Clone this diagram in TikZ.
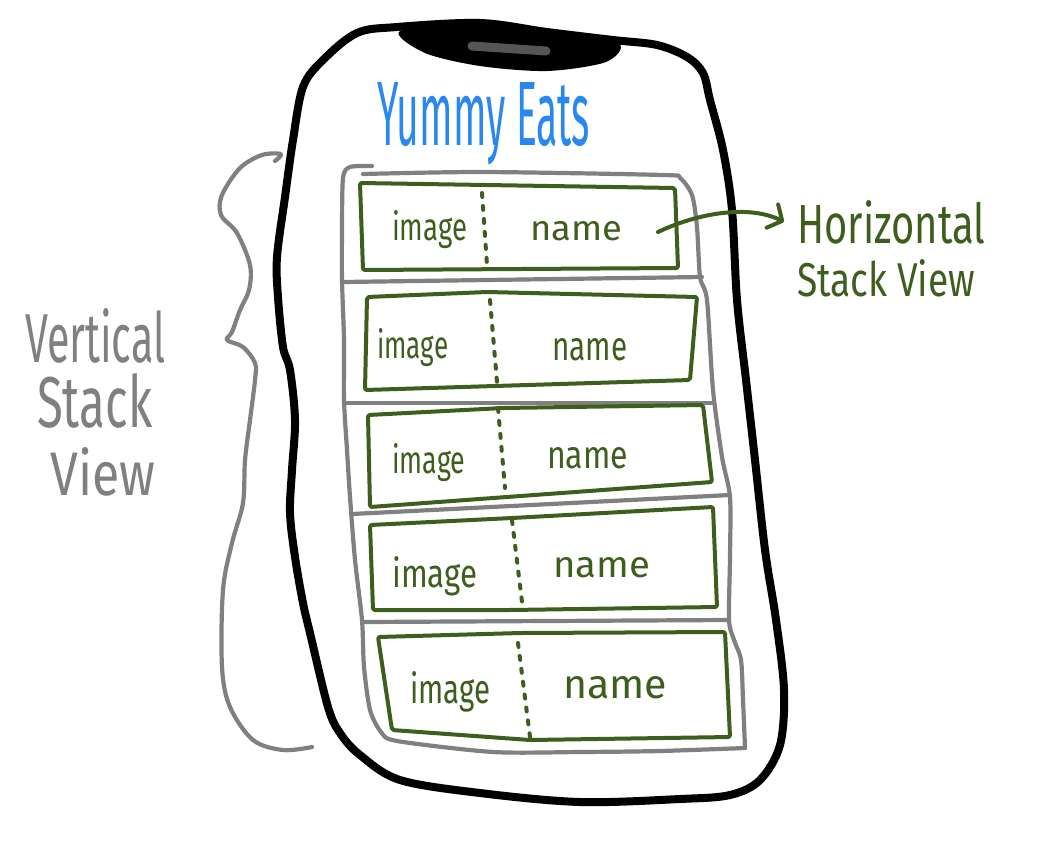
\documentclass[tikz,border=0pt]{standalone}
\usepackage{fontspec}
\setmainfont{Fira Sans}
\usepackage{graphicx}
\usetikzlibrary{arrows.meta}
\definecolor{penblue}{RGB}{40,135,240}
\definecolor{pengreen}{RGB}{62,94,30}
\definecolor{pengray}{RGB}{128,128,128}
\definecolor{speaker}{RGB}{85,85,85}
\newcommand{\hw}[3]{\resizebox{#1pt}{#2pt}{#3}}
\begin{document}
\begin{tikzpicture}[x=1pt,y=-1pt,line cap=round,line join=round,
  phone/.style={line width=8pt,black},
  stackline/.style={line width=4.2pt,pengray},
  rowbox/.style={line width=4pt,pengreen,rounded corners=2pt},
  rowsplit/.style={line width=4pt,pengreen,dash pattern=on 4pt off 9pt},
  txt/.style={inner sep=0pt,anchor=base west},
  celltext/.style={txt,text=pengreen,font=\fontsize{40}{40}\selectfont},
  graytext/.style={txt,text=pengray,font=\fontsize{72}{72}\selectfont},
  greentext/.style={txt,text=pengreen,font=\fontsize{60}{60}\selectfont},
  arrowline/.style={line width=4pt,pengreen,-{Straight Barb[length=11pt,width=26pt,round]}}]
\useasboundingbox (0,0) rectangle (1064,846);
\fill[white] (0,0) rectangle (1064,846);

% phone outline
\draw[phone] plot[smooth cycle,tension=0.55] coordinates {
 (293,140) (303,87) (323,60) (357,33) (397,27) (480,23) (547,32) (613,40)
 (657,45) (687,57) (703,73) (710,100) (723,150) (732,210) (737,300) (746,380)
 (755,460) (765,550) (776,620) (784,690) (780,745) (760,780) (730,795) (680,799)
 (580,802) (480,793) (400,780) (360,755) (340,733) (328,707) (310,633) (303,603)
 (295,557) (290,513) (292,470) (295,420) (290,370) (283,347) (278,297) (277,257) (285,197)};
% notch
\fill[black] plot[smooth cycle,tension=0.5] coordinates {
 (400,31) (480,24) (547,32) (618,43) (606,62) (547,71) (480,66) (425,53)};
\draw[line width=9pt,speaker] (472,46) -- (546,51);

% title
\node[txt,text=penblue,font=\fontsize{90}{90}\selectfont] (title) at (377,145) {\hw{213}{63}{Yummy Eats}};

% vertical stack outline
\draw[stackline] plot[smooth,tension=0.45] coordinates {
 (372,166) (350,167) (343,178) (342,230) (342,280) (344,340) (344,400) (347,450)
 (350,497) (355,560) (362,620) (364,667) (370,710) (381,732) (397,741) (493,752)
 (580,752) (660,751) (745,748)};
\draw[stackline] plot[smooth,tension=0.45] coordinates {
 (745,748) (743,700) (741,660) (734,640) (729,620) (730,557) (730,497) (722,457)
 (713,390) (707,300) (700,277) (697,227) (692,195) (680,178) (663,175) (483,172) (363,174)};
% dividers
\draw[stackline] (343,282) -- (702,277);
\draw[stackline] (344,403) -- (713,403);
\draw[stackline] (352,514) -- (730,495);
\draw[stackline] (365,622) -- (728,620);

% row boxes
\draw[rowbox] (360,183) -- (675,188) -- (678,268) -- (363,270) -- cycle;
\draw[rowbox] (367,297) -- (487,292) -- (697,297) -- (690,380) -- (365,390) -- cycle;
\draw[rowbox] (368,415) -- (503,408) -- (703,405) -- (712,482) -- (370,507) -- cycle;
\draw[rowbox] (370,525) -- (512,518) -- (713,507) -- (717,607) -- (510,610) -- (373,610) -- cycle;
\draw[rowbox] (378,637) -- (520,633) -- (725,632) -- (730,737) -- (530,740) -- (392,730) -- cycle;

% dotted splits
\draw[rowsplit] (482,193) -- (487,265);
\draw[rowsplit] (490,300) -- (497,382);
\draw[rowsplit] (498,408) -- (505,488);
\draw[rowsplit] (512,520) -- (522,602);
\draw[rowsplit] (518,643) -- (530,737);

% cell texts
\node[celltext] (img1) at (392,240) {\hw{75}{30}{image}};
\node[celltext] (nam1) at (530,240) {\hw{92}{19}{name}};
\node[celltext] (img2) at (377,358) {\hw{71}{30}{image}};
\node[celltext] (nam2) at (552,360) {\hw{75}{22}{name}};
\node[celltext] (img3) at (392,473) {\hw{73}{30}{image}};
\node[celltext] (nam3) at (547,468) {\hw{81}{21}{name}};
\node[celltext] (img4) at (392,587) {\hw{85}{31}{image}};
\node[celltext] (nam4) at (553,577) {\hw{97}{20}{name}};
\node[celltext] (img5) at (410,703) {\hw{80}{32}{image}};
\node[celltext] (nam5) at (563,698) {\hw{104}{22}{name}};

% horizontal stack label and arrow
\node[greentext] (hl1) at (797,243) {\hw{188}{43}{Horizontal}};
\node[greentext] (hl2) at (797,296) {\hw{178}{37}{Stack View}};
\coordinate (astart) at (658,232);
\draw[arrowline] (astart) .. controls (700,212) and (750,205) .. ([xshift=-13pt]hl1.west);

% vertical stack label and brace
\node[graytext] (vl1) at (25,362) {\hw{140}{54}{Vertical}};
\node[graytext] (vl2) at (37,427) {\hw{115}{54}{Stack}};
\node[graytext] (vl3) at (50,495) {\hw{105}{48}{View}};
\draw[stackline] plot[smooth,tension=0.55] coordinates {
 (275,161) (281,154) (262,155) (240,168) (222,195) (221,215) (237,233) (250,265)
 (249,290) (240,310) (232,332) (227,340) (243,347) (255,363) (255,380) (250,420)
 (245,460) (243,503) (232,543) (223,590) (222,667) (230,707) (253,740) (283,750) (312,747)};
\end{tikzpicture}
\end{document}
